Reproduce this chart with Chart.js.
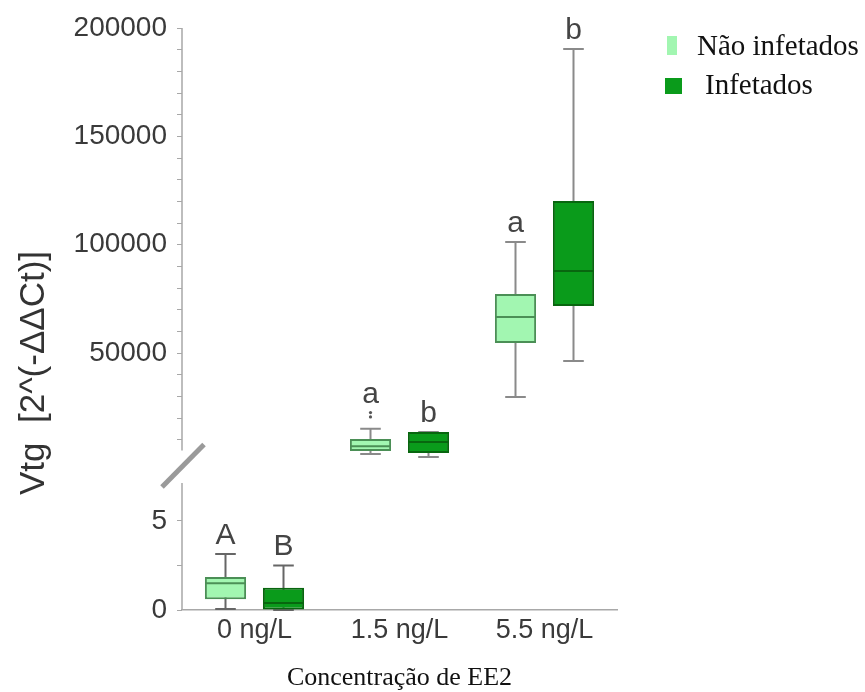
<!DOCTYPE html>
<html>
<head>
<meta charset="utf-8">
<script src="https://cdn.jsdelivr.net/npm/chart.js@4/dist/chart.umd.min.js"></script>
<style>
  html, body { margin: 0; padding: 0; background: #fff; }
  #wrap { width: 865px; height: 692px; }
</style>
</head>
<body>
<div id="wrap"><canvas id="vtgChart"></canvas></div>
<script>
// Data
const categories = ['0 ng/L', '1.5 ng/L', '5.5 ng/L'];
const seriesNames = ['Não infetados', 'Infetados'];

// [min, q1, median, q3, max] per concentration
const naoInfetados = [
    [0.05, 0.6, 1.5, 1.85, 3.15],
    [3400, 4800, 7000, 10300, 15000],
    [29700, 54600, 66600, 77200, 101200]
];
const infetados = [
    [0, 0, 0.4, 1.25, 2.5],
    [2000, 3800, 8900, 13500, 13500],
    [46300, 71700, 87900, 120200, 190300]
];
const naoInfetadosOutliers = [[], [20500, 22500], []];
const infetadosOutliers = [[], [], []];
const naoInfetadosLetters = ['A', 'a', 'a'];
const infetadosLetters = ['B', 'b', 'b'];

// axis ticks (broken axis: low part for 0 ng/L, high part for the rest)
const upperTicks = [10000, 20000, 30000, 40000, 50000, 60000, 70000, 80000, 90000, 100000,
    110000, 120000, 130000, 140000, 150000, 160000, 170000, 180000, 190000, 200000];
const upperLabels = [50000, 100000, 150000, 200000];
const lowerTicks = [0, 2.5, 5];
const lowerLabels = [0, 5];
const upperAxisEnd = 5000;

const lightFill = '#a2f6b1';
const lightLine = '#4b8f56';
const darkFill = '#0a9b1b';
const darkLine = '#08660f';
const sans = "'Liberation Sans', Arial, sans-serif";
const serif = "'Liberation Serif', 'Times New Roman', serif";

function boxes(stats, onLower) {
    return stats.map((s, i) => ((i === 0) === onLower ? [s[1], s[3]] : null));
}

function boxDataset(label, stats, outliers, letters, lower, fill, line, stack) {
    return {
        label: label,
        data: boxes(stats, lower),
        stats: stats,
        outliers: outliers,
        letters: letters,
        onLower: lower,
        yAxisID: lower ? 'yLow' : 'yHigh',
        stack: stack,
        backgroundColor: fill,
        borderColor: line,
        medianColor: line,
        borderWidth: 2,
        borderSkipped: false,
        categoryPercentage: 0.8,
        barPercentage: 0.71
    };
}

const boxPlotPlugin = {
    id: 'boxPlot',
    beforeDatasetsDraw(chart) {
        const ctx = chart.ctx;
        chart.data.datasets.forEach((ds, di) => {
            const meta = chart.getDatasetMeta(di);
            const scale = chart.scales[ds.yAxisID];
            ds.data.forEach((v, i) => {
                if (v === null) return;
                const el = meta.data[i];
                const s = ds.stats[i];
                const x = el.x;
                const cap = el.width / 2;
                ctx.save();
                ctx.strokeStyle = ds.onLower ? '#666' : '#8a8a8a';
                ctx.lineWidth = 2;
                ctx.beginPath();
                ctx.moveTo(x, scale.getPixelForValue(s[0]));
                ctx.lineTo(x, scale.getPixelForValue(s[4]));
                [s[0], s[4]].forEach(w => {
                    const y = scale.getPixelForValue(w);
                    ctx.moveTo(x - cap / 2, y);
                    ctx.lineTo(x + cap / 2, y);
                });
                ctx.stroke();
                ctx.restore();
            });
        });
    },
    afterDatasetsDraw(chart) {
        const ctx = chart.ctx;
        const area = chart.chartArea;
        const yHigh = chart.scales.yHigh;
        const yLow = chart.scales.yLow;

        chart.data.datasets.forEach((ds, di) => {
            const meta = chart.getDatasetMeta(di);
            const scale = chart.scales[ds.yAxisID];
            ds.data.forEach((v, i) => {
                if (v === null) return;
                const el = meta.data[i];
                const s = ds.stats[i];
                const half = el.width / 2;
                ctx.save();
                // median
                ctx.strokeStyle = ds.medianColor;
                ctx.lineWidth = 2;
                const ym = scale.getPixelForValue(s[2]);
                ctx.beginPath();
                ctx.moveTo(el.x - half + 1, ym);
                ctx.lineTo(el.x + half - 1, ym);
                ctx.stroke();
                // outliers
                let top = scale.getPixelForValue(s[4]);
                ctx.fillStyle = '#555';
                ds.outliers[i].forEach(o => {
                    const yo = scale.getPixelForValue(o);
                    ctx.beginPath();
                    ctx.arc(el.x, yo, 1.6, 0, Math.PI * 2);
                    ctx.fill();
                    top = Math.min(top, yo);
                });
                // significance letter
                ctx.fillStyle = '#444';
                ctx.font = '30px ' + sans;
                ctx.textAlign = 'center';
                ctx.textBaseline = 'alphabetic';
                ctx.fillText(ds.letters[i], el.x, top - 10);
                ctx.restore();
            });
        });

        // axis lines
        ctx.save();
        ctx.strokeStyle = '#a8a8a8';
        ctx.lineWidth = 1.5;
        ctx.beginPath();
        ctx.moveTo(area.left, yHigh.getPixelForValue(200000));
        ctx.lineTo(area.left, yHigh.getPixelForValue(upperAxisEnd));
        ctx.moveTo(area.left, yLow.top);
        ctx.lineTo(area.left, yLow.bottom);
        ctx.stroke();

        // axis break mark
        ctx.strokeStyle = '#9a9a9a';
        ctx.lineWidth = 5;
        ctx.beginPath();
        ctx.moveTo(area.left - 20, yLow.top + 4);
        ctx.lineTo(area.left + 22, yHigh.getPixelForValue(upperAxisEnd) - 6);
        ctx.stroke();

        // y title
        ctx.fillStyle = '#333';
        ctx.font = '35px ' + sans;
        ctx.textAlign = 'center';
        ctx.textBaseline = 'alphabetic';
        ctx.translate(44, 373);
        ctx.rotate(-Math.PI / 2);
        ctx.fillText('Vtg  [2^(-ΔΔCt)]', 0, 0);
        ctx.restore();

        // x title
        ctx.save();
        ctx.fillStyle = '#111';
        ctx.font = '26px ' + serif;
        ctx.textAlign = 'center';
        ctx.textBaseline = 'alphabetic';
        ctx.fillText('Concentração de EE2', (area.left + area.right) / 2, 685);

        // legend
        const lx = area.right + 48;
        ctx.font = '29px ' + serif;
        ctx.textAlign = 'left';
        ctx.fillStyle = lightFill;
        ctx.fillRect(lx + 2, 36, 10, 19);
        ctx.fillStyle = '#111';
        ctx.fillText(seriesNames[0], lx + 32, 55);
        ctx.fillStyle = darkFill;
        ctx.fillRect(lx, 78, 17, 16);
        ctx.fillStyle = '#111';
        ctx.fillText(seriesNames[1], lx + 40, 94);
        ctx.restore();
    }
};

function fixedTicks(values, labels) {
    return {
        afterBuildTicks(scale) {
            scale.ticks = values.map(v => ({ value: v }));
        },
        afterFit(scale) {
            scale.width = 182;
        },
        ticks: {
            autoSkip: false,
            callback: v => (labels.includes(v) ? String(v) : ''),
            color: '#3a3a3a',
            font: { family: sans, size: 28 },
            padding: 10
        }
    };
}

const upperAxis = fixedTicks(upperTicks, upperLabels);
const lowerAxis = fixedTicks(lowerTicks, lowerLabels);

new Chart(document.getElementById('vtgChart').getContext('2d'), {
    type: 'bar',
    data: {
        labels: categories,
        datasets: [
            boxDataset(seriesNames[0], naoInfetados, naoInfetadosOutliers, naoInfetadosLetters, true, lightFill, lightLine, 'nao'),
            boxDataset(seriesNames[1], infetados, infetadosOutliers, infetadosLetters, true, darkFill, darkLine, 'inf'),
            boxDataset(seriesNames[0], naoInfetados, naoInfetadosOutliers, naoInfetadosLetters, false, lightFill, lightLine, 'nao'),
            boxDataset(seriesNames[1], infetados, infetadosOutliers, infetadosLetters, false, darkFill, darkLine, 'inf')
        ]
    },
    options: {
        responsive: true,
        maintainAspectRatio: false,
        animation: false,
        layout: { padding: { top: 28, right: 248, bottom: 0, left: 0 } },
        plugins: {
            legend: { display: false },
            tooltip: { enabled: false }
        },
        scales: {
            x: {
                afterFit(scale) { scale.height = 82; },
                grid: { display: false, drawTicks: false },
                border: { color: '#a8a8a8', width: 1.5 },
                ticks: {
                    color: '#3a3a3a',
                    font: { family: sans, size: 27 },
                    padding: 4
                }
            },
            yLow: Object.assign(lowerAxis, {
                type: 'linear',
                position: 'left',
                stack: 'vtg',
                stackWeight: 127,
                stacked: false,
                min: 0,
                max: 7.13,
                border: { display: false },
                grid: { drawOnChartArea: false, tickLength: 5, color: '#a8a8a8' }
            }),
            yHigh: Object.assign(upperAxis, {
                type: 'linear',
                position: 'left',
                stack: 'vtg',
                stackWeight: 455,
                stacked: false,
                min: -10000,
                max: 200000,
                border: { display: false },
                grid: { drawOnChartArea: false, tickLength: 5, color: '#a8a8a8' }
            })
        }
    },
    plugins: [boxPlotPlugin]
});
</script>
</body>
</html>
